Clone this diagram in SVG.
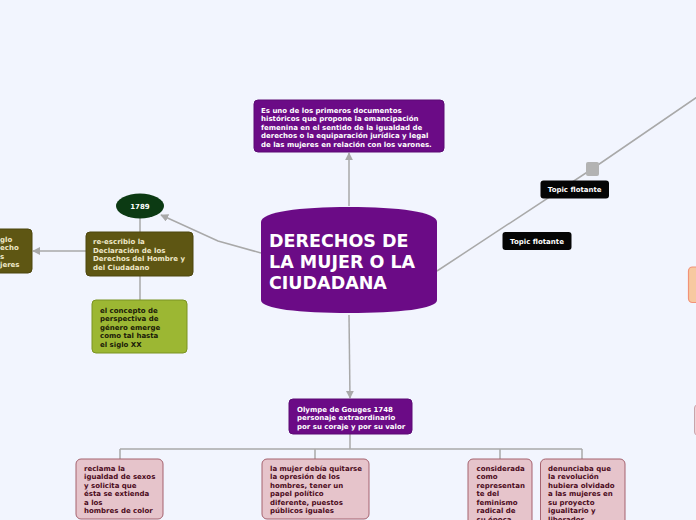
<svg xmlns="http://www.w3.org/2000/svg" width="696" height="520" viewBox="0 0 696 520">
<style>
.t{font-family:"DejaVu Sans",Verdana,sans-serif;font-weight:bold;font-size:7px}
.w{fill:#ffffff}
.ol{fill:#efe8c8}
.dk{fill:#1a1a08}
.pk{fill:#4c0b1b}
.purple{fill:#6b0b86;stroke:#5c0a74;stroke-width:1}
.pinkbox{fill:#e6c4cb;stroke:#a5626f;stroke-width:1}
.edge{fill:none;stroke:#a9a9a9;stroke-width:1.5}
</style>
<defs>
<marker id="arr" viewBox="0 0 10 10" refX="9" refY="5" markerWidth="8" markerHeight="8" markerUnits="userSpaceOnUse" orient="auto">
<path d="M0,0 L10,5 L0,10 Z" fill="#a9a9a9"/>
</marker>
</defs>
<rect x="0" y="0" width="696" height="520" fill="#f2f5fe"/>

<g id="connectors">
<line class="edge" x1="349" y1="206" x2="349" y2="153" marker-end="url(#arr)"/>
<polyline class="edge" points="261,253 218,241 161,215" marker-end="url(#arr)"/>
<line class="edge" x1="140" y1="218" x2="140" y2="232"/>
<line class="edge" x1="86" y1="251" x2="33" y2="251" marker-end="url(#arr)"/>
<line class="edge" x1="140" y1="276" x2="140" y2="300"/>
<line class="edge" x1="349" y1="315" x2="350" y2="398" marker-end="url(#arr)"/>
<path class="edge" d="M350,434 V449 M120,449 H582 M120,449 V459 M315,449 V459 M500,449 V459 M582,449 V459"/>
<polyline class="edge" points="437,271 592,169 700,95"/>
</g>

<g id="central">
<path d="M261,222 C261,212 300,207 349,207 C398,207 437,212 437,222 L437,300 C437,309 398,313 349,313 C300,313 261,309 261,300 Z" fill="#6b0b86"/>
<text font-family="'DejaVu Sans',Verdana,sans-serif" font-weight="bold" font-size="17.5" fill="#ffffff">
<tspan x="269" y="247">DERECHOS DE</tspan>
<tspan x="269" y="268">LA MUJER O LA</tspan>
<tspan x="269" y="289">CIUDADANA</tspan>
</text>
</g>

<g id="top-node">
<rect class="purple" x="254" y="100" width="190" height="52" rx="4"/>
<text class="t w">
<tspan x="261" y="112.5">Es uno de los primeros documentos</tspan>
<tspan x="261" y="121">históricos que propone la emancipación</tspan>
<tspan x="261" y="129.5">femenina en el sentido de la igualdad de</tspan>
<tspan x="261" y="138">derechos o la equiparación jurídica y legal</tspan>
<tspan x="261" y="146.5">de las mujeres en relación con los varones.</tspan>
</text>
</g>

<g id="node-1789">
<ellipse cx="140" cy="206" rx="24" ry="12.5" fill="#0c3a13"/>
<text class="t w" x="140" y="208.5" text-anchor="middle">1789</text>
</g>

<g id="node-reescribio">
<rect x="86" y="232" width="107" height="44" rx="4" fill="#5e5613" stroke="#4d460e"/>
<text class="t ol">
<tspan x="93" y="244">re-escribio la</tspan>
<tspan x="93" y="252.5">Declaración de los</tspan>
<tspan x="93" y="261">Derechos del Hombre y</tspan>
<tspan x="93" y="269.5">del Ciudadano</tspan>
</text>
</g>

<g id="node-left-partial">
<rect x="-20" y="229" width="52" height="44" rx="4" fill="#5e5613" stroke="#4d460e"/>
<text class="t ol">
<tspan x="0" y="241.5">glo</tspan>
<tspan x="0" y="250">echo</tspan>
<tspan x="0" y="258.5">s</tspan>
<tspan x="0" y="267">jeres</tspan>
</text>
</g>

<g id="node-concepto">
<rect x="92" y="300" width="95" height="53" rx="4" fill="#9cb733" stroke="#7b9322"/>
<text class="t dk">
<tspan x="100" y="312.5">el concepto de</tspan>
<tspan x="100" y="321">perspectiva de</tspan>
<tspan x="100" y="329.5">género emerge</tspan>
<tspan x="100" y="338">como tal hasta</tspan>
<tspan x="100" y="346.5">el siglo XX</tspan>
</text>
</g>

<g id="node-olympe">
<rect class="purple" x="289" y="399" width="123" height="35" rx="4"/>
<text class="t w">
<tspan x="297" y="411.5">Olympe de Gouges 1748</tspan>
<tspan x="297" y="420">personaje extraordinario</tspan>
<tspan x="297" y="428.5">por su coraje y por su valor</tspan>
</text>
</g>

<g id="node-reclama">
<rect class="pinkbox" x="76" y="459" width="87" height="60" rx="5"/>
<text class="t pk">
<tspan x="84" y="470.5">reclama la</tspan>
<tspan x="84" y="479">igualdad de sexos</tspan>
<tspan x="84" y="487.5">y solicita que</tspan>
<tspan x="84" y="496">ésta se extienda</tspan>
<tspan x="84" y="504.5">a los</tspan>
<tspan x="84" y="513">hombres de color</tspan>
</text>
</g>

<g id="node-mujer">
<rect class="pinkbox" x="262" y="459" width="107" height="60" rx="5"/>
<text class="t pk">
<tspan x="270" y="470.5">la mujer debía quitarse</tspan>
<tspan x="270" y="479">la opresión de los</tspan>
<tspan x="270" y="487.5">hombres, tener un</tspan>
<tspan x="270" y="496">papel político</tspan>
<tspan x="270" y="504.5">diferente, puestos</tspan>
<tspan x="270" y="513">públicos iguales</tspan>
</text>
</g>

<g id="node-considerada">
<rect class="pinkbox" x="468" y="459" width="64" height="75" rx="5"/>
<text class="t pk">
<tspan x="476.5" y="470.5">considerada</tspan>
<tspan x="476.5" y="479">como</tspan>
<tspan x="476.5" y="487.5">representan</tspan>
<tspan x="476.5" y="496">te del</tspan>
<tspan x="476.5" y="504.5">feminismo</tspan>
<tspan x="476.5" y="513">radical de</tspan>
<tspan x="476.5" y="521.5">su época</tspan>
</text>
</g>

<g id="node-denunciaba">
<rect class="pinkbox" x="540.5" y="459" width="84.5" height="75" rx="5"/>
<text class="t pk">
<tspan x="548" y="470.5">denunciaba que</tspan>
<tspan x="548" y="479">la revolución</tspan>
<tspan x="548" y="487.5">hubiera olvidado</tspan>
<tspan x="548" y="496">a las mujeres en</tspan>
<tspan x="548" y="504.5">su proyecto</tspan>
<tspan x="548" y="513">igualitario y</tspan>
<tspan x="548" y="521.5">liberador</tspan>
</text>
</g>

<g id="gray-handle">
<rect x="586" y="162" width="13" height="14" rx="2" fill="#b3b3b3"/>
</g>

<g id="topic1">
<rect x="540.5" y="180.5" width="68.5" height="18" rx="3" fill="#050505"/>
<text class="t w" x="574.7" y="192" text-anchor="middle">Topic flotante</text>
</g>

<g id="topic2">
<rect x="502.5" y="232" width="69" height="18" rx="3" fill="#050505"/>
<text class="t w" x="537" y="243.5" text-anchor="middle">Topic flotante</text>
</g>

<g id="right-partial-orange">
<rect x="688.5" y="267" width="30" height="35.5" rx="4" fill="#f7c9a0" stroke="#f29378" stroke-width="1.2"/>
</g>

<g id="right-partial-pink">
<rect x="694.5" y="405" width="20" height="30" rx="3" fill="#eed6da" stroke="#c9a3ab"/>
</g>
</svg>
